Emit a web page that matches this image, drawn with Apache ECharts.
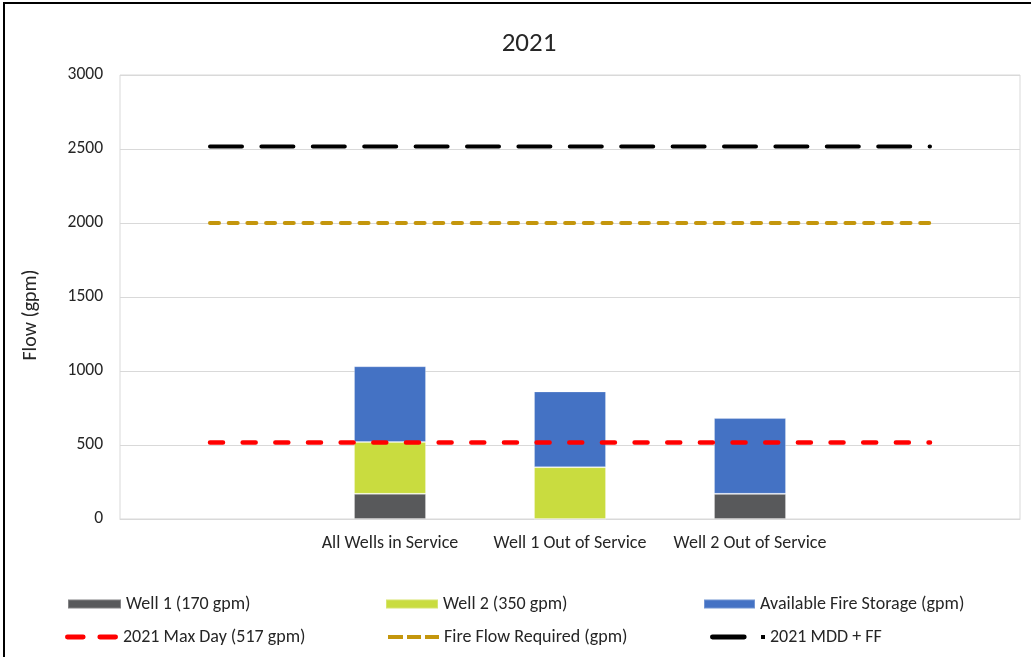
<!doctype html>
<html lang="en">
<head>
	<meta charset="UTF-8">
	<title>2021 Flow</title>
	<script src="https://cdn.jsdelivr.net/npm/echarts@6/dist/echarts.min.js"></script>
	<style>
		html, body { margin: 0; padding: 0; background: #fff; }
		#main { width: 1031px; height: 657px; }
	</style>
</head>
<body>
<div id="main"></div>
<script type="text/javascript">
	// 数据
	var categories = ['', 'All Wells in Service', 'Well 1 Out of Service', 'Well 2 Out of Service', ' '];
	var well1 = [null, 170, 0, 170, null];
	var well2 = [null, 350, 350, 0, null];
	var fireStorage = [null, 512, 512, 512, null];
	var maxDay = [517, 517, 517, 517, 517];
	var fireFlow = [2000, 2000, 2000, 2000, 2000];
	var mddFF = [2517, 2517, 2517, 2517, 2517];
	var yTicks = { min: 0, max: 3000, interval: 500 };

	var font = 'Carlito, Lato, sans-serif';
	var myChart = echarts.init(document.getElementById('main'));

	function legendAt(name, left, top, w, h, icon) {
		return {
			data: [{ name: name, icon: icon }],
			left: left, top: top,
			padding: 0,
			itemWidth: w, itemHeight: h,
			itemGap: 0,
			selectedMode: false,
			textStyle: { fontFamily: font, fontSize: 18, color: '#262626' }
		};
	}

	var option = {
		animation: false,
		backgroundColor: '#fff',
		title: {
			text: '2021',
			left: 524, top: 26,
			textAlign: 'center',
			textStyle: { fontFamily: font, fontSize: 27, fontWeight: 'normal', color: '#262626' }
		},
		graphic: [{
			type: 'rect',
			shape: { x: 4, y: 3, width: 1100, height: 700 },
			style: { fill: 'none', stroke: '#000', lineWidth: 2 },
			silent: true
		}],
		legend: [
			legendAt('Well 1 (170 gpm)', 67, 595, 53, 9, 'rect'),
			legendAt('Well 2 (350 gpm)', 385, 595, 52, 9, 'rect'),
			legendAt('Available Fire Storage (gpm)', 703, 595, 51, 9, 'rect'),
			legendAt('2021 Max Day (517 gpm)', 65, 628, 53, 5, 'path://M2,0H18A2,2 0 0 1 18,5H2A2,2 0 0 1 2,0Z M35,0H51A2,2 0 0 1 51,5H35A2,2 0 0 1 35,0Z'),
			legendAt('Fire Flow Required (gpm)', 388, 628, 51, 4, 'path://M0,0H15V4H0Z M19,0H33V4H19Z M37,0H51V4H37Z'),
			legendAt('2021 MDD + FF', 710, 628, 55, 5, 'path://M2,0H34A2,2 0 0 1 34,5H2A2,2 0 0 1 2,0Z M51,0.5H55V4.5H51Z')
		],
		grid: {
			left: 120, right: 11, top: 75, bottom: 138,
			show: true,
			borderColor: '#d9d9d9',
			borderWidth: 1
		},
		xAxis: {
			type: 'category',
			data: categories,
			axisTick: { show: false },
			axisLine: { lineStyle: { color: '#d9d9d9' } },
			axisLabel: { fontFamily: font, fontSize: 18, color: '#262626', margin: 15, interval: 0 }
		},
		yAxis: {
			type: 'value',
			min: yTicks.min, max: yTicks.max, interval: yTicks.interval,
			name: 'Flow (gpm)',
			nameLocation: 'middle',
			nameGap: 79,
			nameTextStyle: { fontFamily: font, fontSize: 20, color: '#262626', padding: [0, 36, 0, 0] },
			axisLine: { show: false },
			axisTick: { show: false },
			splitLine: { lineStyle: { color: '#d9d9d9' } },
			axisLabel: {
				fontFamily: font, fontSize: 17.5, color: '#262626', margin: 17,
				formatter: function (v) { return String(v); }
			}
		},
		series: [
			{
				name: 'Well 1 (170 gpm)', type: 'bar', stack: 'flow', barWidth: 72,
				data: well1,
				itemStyle: { color: '#58595b', borderColor: 'rgba(255,255,255,0.25)', borderWidth: 1 }
			},
			{
				name: 'Well 2 (350 gpm)', type: 'bar', stack: 'flow',
				data: well2,
				itemStyle: { color: '#c9dc3f', borderColor: 'rgba(255,255,255,0.25)', borderWidth: 1 }
			},
			{
				name: 'Available Fire Storage (gpm)', type: 'bar', stack: 'flow',
				data: fireStorage,
				itemStyle: { color: '#4472c4', borderColor: 'rgba(255,255,255,0.25)', borderWidth: 1 }
			},
			{
				name: '2021 Max Day (517 gpm)', type: 'line', symbol: 'none', z: 5,
				data: maxDay,
				itemStyle: { color: '#ff0000' },
				lineStyle: { color: '#ff0000', width: 4.5, cap: 'round', type: [13, 19.66] }
			},
			{
				name: 'Fire Flow Required (gpm)', type: 'line', symbol: 'none', z: 5,
				data: fireFlow,
				itemStyle: { color: '#c4960c' },
				lineStyle: { color: '#c4960c', width: 4, cap: 'round', type: [9, 9.69] }
			},
			{
				name: '2021 MDD + FF', type: 'line', symbol: 'none', z: 5,
				data: mddFF,
				itemStyle: { color: '#000' },
				lineStyle: { color: '#000', width: 4, cap: 'round', type: [32, 19.4] }
			}
		]
	};

	myChart.setOption(option);
</script>
</body>
</html>
